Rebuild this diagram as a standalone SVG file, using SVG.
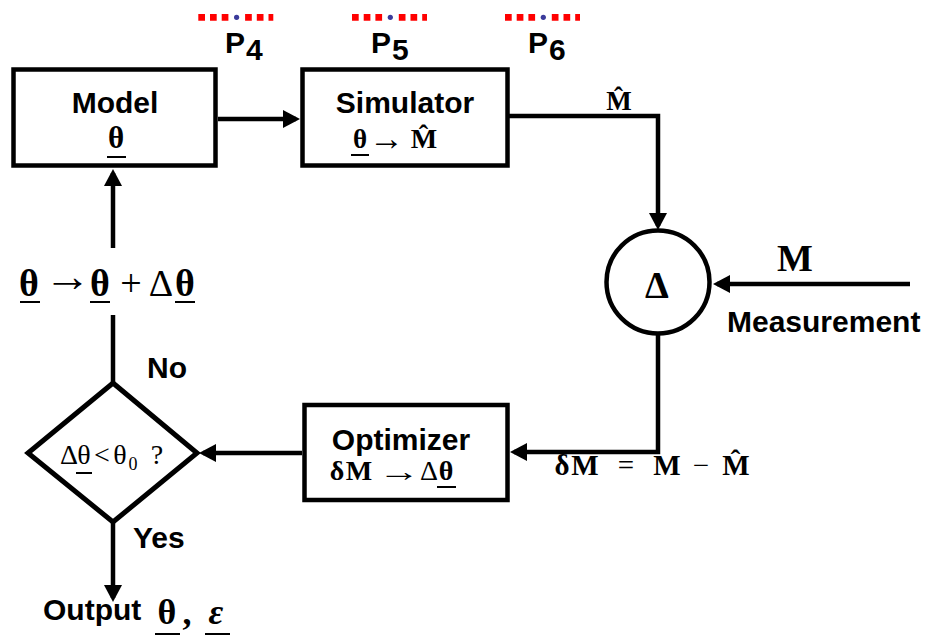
<svg xmlns="http://www.w3.org/2000/svg" width="933" height="637" viewBox="0 0 933 637">
<style>
.box{fill:#fff;stroke:#000;stroke-width:4.5}
.conn{fill:none;stroke:#000;stroke-width:4.5}
.lbl{font-family:"Liberation Sans",Arial,sans-serif;font-weight:bold;font-size:30px;fill:#000}
.m{font-family:"Liberation Serif","Times New Roman",serif;fill:#000}
.b{font-weight:bold}
.c{text-anchor:middle}
.ul{stroke:#000;stroke-width:2}
.dots{stroke:#f00;stroke-width:6.7;stroke-dasharray:6.7 5 6.7 5 6.7 16.7 6.7 5 6.7 5 6.7 5}
</style>
<defs>
<marker id="ah" markerUnits="userSpaceOnUse" markerWidth="18" markerHeight="18" refX="13" refY="9" orient="auto">
<path d="M0,0 L17,9 L0,18 z" fill="#000"/>
</marker>
<g id="probe">
<line class="dots" x1="0" y1="0" x2="75" y2="0"/>
<circle cx="38.3" cy="0" r="2.6" fill="#3b3b9b"/>
</g>
</defs>
<rect width="933" height="637" fill="#fff"/>

<g id="probes">
<use href="#probe" x="198.3" y="17.3"/>
<use href="#probe" x="352" y="17.3"/>
<use href="#probe" x="505" y="17.3"/>
<text class="lbl" x="225" y="53" font-size="34">P</text><text class="lbl" x="246" y="60" font-size="21">4</text>
<text class="lbl" x="371" y="53" font-size="34">P</text><text class="lbl" x="392" y="60" font-size="21">5</text>
<text class="lbl" x="528" y="53" font-size="34">P</text><text class="lbl" x="549" y="60" font-size="21">6</text>
</g>

<g id="connectors">
<line class="conn" x1="218" y1="119" x2="296" y2="119" marker-end="url(#ah)"/>
<polyline class="conn" points="509,116 658,116 658,226" marker-end="url(#ah)"/>
<line class="conn" x1="910" y1="284" x2="717" y2="284" marker-end="url(#ah)"/>
<polyline class="conn" points="658,334 658,452 514,452" marker-end="url(#ah)"/>
<line class="conn" x1="302" y1="453" x2="203" y2="453" marker-end="url(#ah)"/>
<line class="conn" x1="113" y1="522" x2="113" y2="598" marker-end="url(#ah)"/>
<line class="conn" x1="113" y1="315" x2="113" y2="383"/>
<line class="conn" x1="113" y1="248" x2="113" y2="173" marker-end="url(#ah)"/>
</g>

<g id="model">
<rect class="box" x="13.5" y="69.5" width="202" height="96"/>
<text class="lbl c" x="115" y="113">Model</text>
<text class="m b c" x="116" y="148" font-size="31">θ</text>
<line class="ul" x1="107" y1="157" x2="126" y2="157"/>
</g>

<g id="simulator">
<rect class="box" x="302.5" y="69.5" width="205" height="96"/>
<text class="lbl c" x="405" y="113">Simulator</text>
<text class="m b c" x="360" y="148" font-size="27">θ</text>
<line class="ul" x1="351" y1="155" x2="369" y2="155"/>
<text class="m c" x="386.5" y="150" font-size="35">→</text>
<text class="m b c" x="424" y="148" font-size="28">M&#x302;</text>
</g>

<g id="mhat-label">
<text class="m b c" x="619" y="110" font-size="27">M&#x302;</text>
</g>

<g id="difference">
<circle cx="658" cy="282" r="51.5" fill="#fff" stroke="#000" stroke-width="4.5"/>
<text class="m b c" x="657" y="298" font-size="38">Δ</text>
</g>

<g id="measurement">
<text class="m b c" x="795" y="271" font-size="38">M</text>
<text class="lbl" x="727" y="332">Measurement</text>
</g>

<g id="optimizer">
<rect class="box" x="304.5" y="405" width="203" height="95"/>
<text class="lbl c" x="401" y="450">Optimizer</text>
<text class="m c" font-size="28" y="480"><tspan class="b" x="337">δ</tspan><tspan class="b" x="359">M</tspan><tspan x="429">Δ</tspan><tspan class="b" x="446">θ</tspan></text>
<text class="m c" x="399" y="481" font-size="29" textLength="42" lengthAdjust="spacingAndGlyphs">→</text>
<line class="ul" x1="437" y1="487" x2="456" y2="487"/>
</g>

<g id="residual">
<text class="m c" font-size="29" y="475"><tspan class="b" x="562">δ</tspan><tspan class="b" x="585">M</tspan><tspan x="626">=</tspan><tspan class="b" x="667">M</tspan><tspan x="701">−</tspan><tspan class="b" x="736">M&#x302;</tspan></text>
</g>

<g id="update">
<text class="m c" y="296" font-size="38"><tspan class="b" x="29">θ</tspan><tspan class="b" x="100">θ</tspan><tspan x="131">+</tspan><tspan x="161">Δ</tspan><tspan class="b" x="185">θ</tspan></text>
<text class="m c" x="67.5" y="291" font-size="44" textLength="47" lengthAdjust="spacingAndGlyphs">→</text>
<line class="ul" x1="20" y1="302" x2="40" y2="302"/>
<line class="ul" x1="90" y1="302" x2="110" y2="302"/>
<line class="ul" x1="175" y1="302" x2="195" y2="302"/>
</g>

<g id="decision">
<polygon points="113,383 197,453 113,522 28,453" fill="#fff" stroke="#000" stroke-width="5"/>
<text class="m c" font-size="28" y="464"><tspan x="69">Δ</tspan><tspan x="84">θ</tspan><tspan x="102">&lt;</tspan><tspan x="120">θ</tspan><tspan x="133" y="470" font-size="18">0</tspan><tspan x="157" y="464">?</tspan></text>
<line class="ul" x1="76" y1="473" x2="92" y2="473"/>
</g>

<g id="branch-labels">
<text class="lbl" x="147" y="378">No</text>
<text class="lbl" x="133" y="548">Yes</text>
</g>

<g id="output">
<text class="lbl" x="43" y="620">Output</text>
<text class="m b c" font-size="36" y="624"><tspan x="167">θ</tspan><tspan x="187">,</tspan><tspan x="216" font-style="italic">ε</tspan></text>
<line class="ul" x1="155" y1="634" x2="180" y2="634"/>
<line class="ul" x1="205" y1="634" x2="230" y2="634"/>
</g>
</svg>
